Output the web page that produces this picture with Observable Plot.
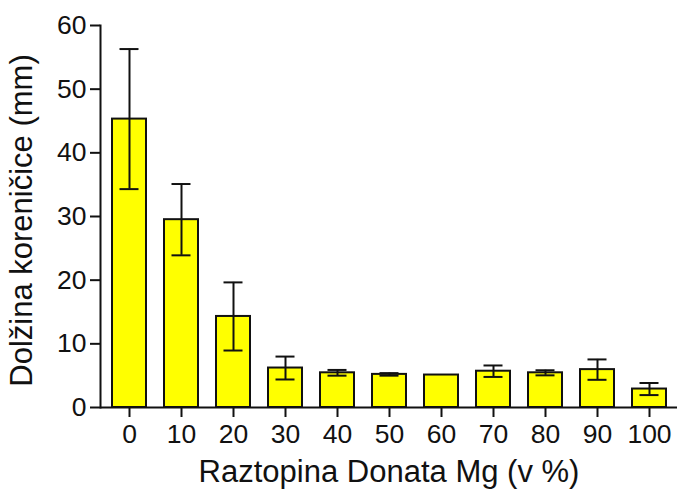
<!DOCTYPE html>
<html>
<head>
<meta charset="utf-8">
<script src="https://cdn.jsdelivr.net/npm/d3@7"></script>
<script src="https://cdn.jsdelivr.net/npm/@observablehq/plot@0.6"></script>
<style>
  html, body { margin: 0; padding: 0; background: #fff; }
  #chart { width: 678px; height: 494px; }
</style>
</head>
<body>
<div id="chart"></div>
<script>
const categories = ["0", "10", "20", "30", "40", "50", "60", "70", "80", "90", "100"];
const means = [45.3, 29.5, 14.3, 6.2, 5.45, 5.2, 5.1, 5.7, 5.45, 5.95, 2.9];
const errors = [11.0, 5.6, 5.35, 1.8, 0.45, 0.2, 0, 0.9, 0.4, 1.6, 0.95];
const yTicks = [0, 10, 20, 30, 40, 50, 60];
const xTitle = "Raztopina Donata Mg (v %)";
const yTitle = "Dolžina koreničice (mm)";

const data = categories.map((c, i) => ({cat: c, mean: means[i], err: errors[i]}));
const withErr = data.filter(d => d.err > 0);

const font = "Liberation Sans, Arial, sans-serif";
const ink = "#111";

const chart = Plot.plot({
  width: 678,
  height: 494,
  marginLeft: 100,
  marginRight: 1,
  marginTop: 25,
  marginBottom: 87,
  style: {fontFamily: font, color: ink, background: "#fff", overflow: "visible"},
  x: {domain: categories, paddingInner: 0.35, paddingOuter: 0.19},
  y: {domain: [0, 60]},
  marks: [
    Plot.barY(data, {x: "cat", y: "mean", fill: "#ffff00", stroke: ink, strokeWidth: 2}),
    Plot.ruleX(withErr, {x: "cat", y1: d => d.mean - d.err, y2: d => d.mean + d.err, stroke: ink, strokeWidth: 2}),
    Plot.tickY(withErr, {x: "cat", y: d => d.mean + d.err, stroke: ink, strokeWidth: 2, insetLeft: 7.5, insetRight: 7.5}),
    Plot.tickY(withErr, {x: "cat", y: d => d.mean - d.err, stroke: ink, strokeWidth: 2, insetLeft: 7.5, insetRight: 7.5}),
    Plot.frame({anchor: "left", stroke: ink, strokeWidth: 2}),
    Plot.ruleY([0], {stroke: ink, strokeWidth: 2}),
    Plot.axisY(yTicks, {
      tickSize: 10, tickPadding: 4, fontSize: 26.5, stroke: ink, strokeWidth: 2, label: null
    }),
    Plot.axisX({
      tickSize: 10, tickPadding: 7, fontSize: 26.5, stroke: ink, strokeWidth: 2, label: null
    }),
    Plot.text([xTitle], {frameAnchor: "bottom", dy: 74, fontSize: 31, fill: ink, textAnchor: "middle"}),
    Plot.text([yTitle], {frameAnchor: "left", rotate: -90, dx: -78, dy: 4, fontSize: 31, fill: ink, textAnchor: "middle"})
  ]
});

document.getElementById("chart").appendChild(chart);
</script>
</body>
</html>
